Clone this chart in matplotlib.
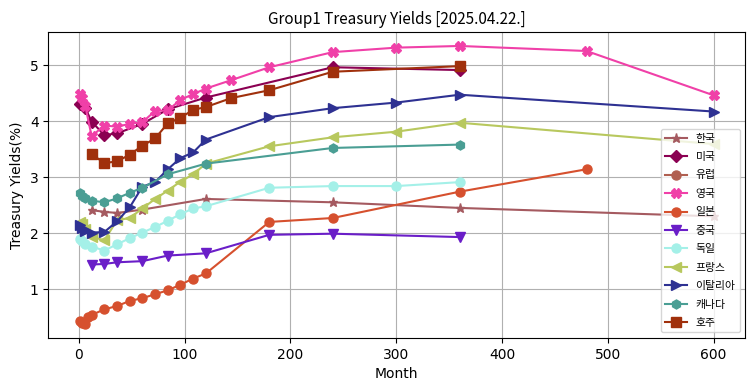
import matplotlib
matplotlib.use("Agg")
import matplotlib.pyplot as plt

KFONT = ['Noto Sans CJK KR', 'DejaVu Sans']

# Korea
kr_m = [12, 24, 36, 60, 120, 240, 360, 600]
kr_y = [2.41, 2.38, 2.36, 2.42, 2.61, 2.55, 2.45, 2.30]
# USA
us_m = [1, 3, 6, 12, 24, 36, 60, 84, 120, 240, 360]
us_y = [4.31, 4.30, 4.23, 3.99, 3.75, 3.78, 3.95, 4.21, 4.42, 4.96, 4.91]
# Europe (no data shown)
eu_m = []
eu_y = []
# UK
uk_m = [1, 3, 6, 12, 24, 36, 48, 60, 72, 84, 96, 108, 120, 144, 180, 240, 300, 360, 480, 600]
uk_y = [4.48, 4.41, 4.27, 3.73, 3.92, 3.90, 3.95, 3.98, 4.18, 4.19, 4.38, 4.48, 4.58, 4.73,
        4.96, 5.23, 5.31, 5.34, 5.25, 4.46]
# Japan
jp_m = [1, 3, 6, 9, 12, 24, 36, 48, 60, 72, 84, 96, 108, 120, 180, 240, 360, 480]
jp_y = [0.43, 0.40, 0.38, 0.51, 0.54, 0.64, 0.70, 0.79, 0.84, 0.91, 0.98, 1.08, 1.19, 1.28,
        2.20, 2.27, 2.74, 3.14]
# China
cn_m = [12, 24, 36, 60, 84, 120, 180, 240, 360]
cn_y = [1.44, 1.45, 1.48, 1.50, 1.60, 1.64, 1.97, 1.99, 1.93]
# Germany
de_m = [1, 3, 6, 12, 24, 36, 48, 60, 72, 84, 96, 108, 120, 180, 240, 300, 360]
de_y = [1.90, 1.86, 1.81, 1.76, 1.69, 1.80, 1.91, 2.01, 2.11, 2.22, 2.34, 2.44, 2.48,
        2.81, 2.84, 2.84, 2.91]
# France
fr_m = [1, 3, 6, 12, 24, 36, 48, 60, 72, 84, 96, 108, 120, 180, 240, 300, 360, 600]
fr_y = [2.20, 2.17, 2.08, 1.94, 1.87, 2.23, 2.27, 2.44, 2.61, 2.76, 2.92, 3.05, 3.24,
        3.55, 3.71, 3.81, 3.97, 3.59]
# Italy
it_m = [1, 3, 6, 12, 24, 36, 48, 60, 72, 84, 96, 108, 120, 180, 240, 300, 360, 600]
it_y = [2.15, 2.10, 2.04, 2.01, 2.02, 2.21, 2.46, 2.83, 2.91, 3.14, 3.34, 3.44, 3.67,
        4.07, 4.23, 4.33, 4.47, 4.17]
# Canada
ca_m = [1, 3, 6, 12, 24, 36, 48, 60, 84, 120, 240, 360]
ca_y = [2.72, 2.67, 2.62, 2.58, 2.55, 2.62, 2.72, 2.81, 3.05, 3.24, 3.52, 3.58]
# Australia
au_m = [12, 24, 36, 48, 60, 72, 84, 96, 108, 120, 144, 180, 240, 360]
au_y = [3.41, 3.25, 3.28, 3.40, 3.56, 3.69, 3.96, 4.06, 4.20, 4.25, 4.41, 4.55, 4.88, 4.98]

series = [
    ('한국', kr_m, kr_y, '#a55a60', '*'),
    ('미국', us_m, us_y, '#8b0052', 'D'),
    ('유럽', eu_m, eu_y, '#b05f50', 'o'),
    ('영국', uk_m, uk_y, '#f040a8', 'X'),
    ('일본', jp_m, jp_y, '#d6502e', 'o'),
    ('중국', cn_m, cn_y, '#6a1ec8', 'v'),
    ('독일', de_m, de_y, '#a4f0e8', 'o'),
    ('프랑스', fr_m, fr_y, '#b8c85e', '<'),
    ('이탈리아', it_m, it_y, '#2e3192', '>'),
    ('캐나다', ca_m, ca_y, '#4a9e94', 'h'),
    ('호주', au_m, au_y, '#a0300c', 's'),
]

fig, ax = plt.subplots(figsize=(7.55, 3.91), dpi=100)
fig.subplots_adjust(left=0.064, right=0.987, top=0.918, bottom=0.136)

for name, m, y, c, mk in series:
    ax.plot(m, y, marker=mk, color=c, label=name, linewidth=1.5, markersize=6.5)

ax.set_title('Group1 Treasury Yields [2025.04.22.]', fontsize=11, family=KFONT)
ax.set_xlabel('Month', fontsize=10)
ax.set_ylabel('Treasury Yields(%)', fontsize=10)
ax.grid(True)
ax.legend(loc='lower right', prop={'family': KFONT, 'size': 7.8}, labelspacing=0.78)

fig.savefig('out.png', dpi=100)
